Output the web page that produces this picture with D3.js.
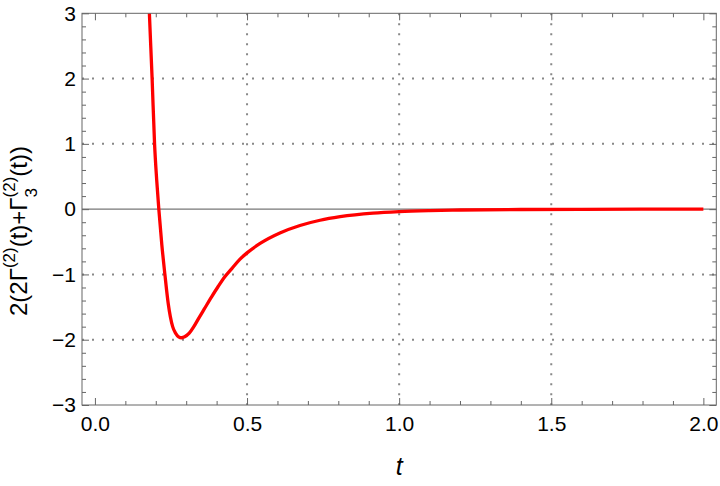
<!DOCTYPE html>
<html>
<head>
<meta charset="utf-8">
<script src="https://cdn.jsdelivr.net/npm/d3@7"></script>
<style>
  body { margin: 0; background: #fff; }
  text { font-family: "Liberation Sans", Arial, sans-serif; }
</style>
</head>
<body>
<script>
// curve
const tValues = [0.172, 0.179, 0.188, 0.196, 0.203, 0.210, 0.220, 0.230, 0.241, 0.2555, 0.265, 0.275,
  0.285, 0.295, 0.310, 0.325, 0.340, 0.360, 0.384, 0.405, 0.427, 0.450, 0.477, 0.500, 0.543, 0.608,
  0.674, 0.740, 0.806, 0.914, 1.0, 1.1, 1.2, 1.4, 1.6, 1.8, 2.0];
const gammaValues = [3.9, 3.0, 2.0, 1.0, 0.45, 0.0, -0.55, -1.0, -1.45, -1.80, -1.90, -1.955,
  -1.97, -1.955, -1.90, -1.80, -1.68, -1.525, -1.34, -1.185, -1.035, -0.91, -0.765, -0.67, -0.525, -0.365,
  -0.25, -0.17, -0.115, -0.06, -0.037, -0.022, -0.013, -0.005, -0.002, -0.001, 0.0];

const xMajor = [0, 0.5, 1.0, 1.5, 2.0];
const xMinor = d3.range(0, 2.01, 0.1).map(d => +d.toFixed(1)).filter(d => !xMajor.includes(d));
const yMajor = [-3, -2, -1, 0, 1, 2, 3];
const yMinor = d3.range(-3, 3.01, 0.2).map(d => +d.toFixed(1)).filter(d => !yMajor.includes(d));
const xGrid = [0.5, 1.0, 1.5];
const yGrid = [-2, -1, 1, 2];

var margin = {top: 13.3, right: 3.7, bottom: 81, left: 82},
    width = 720 - margin.left - margin.right,
    height = 486 - margin.top - margin.bottom;

var svg = d3.select("body")
    .append("svg")
    .attr("width", 720)
    .attr("height", 486)
    .append("g")
    .attr("transform", "translate(" + margin.left + "," + margin.top + ")");

var x = d3.scaleLinear().domain([-0.0425, 2.0425]).range([0, width]);
var y = d3.scaleLinear().domain([-3, 3]).range([height, 0]);

var axisColor = "#666";
var minus = d => d < 0 ? "\u2212" + Math.abs(d) : "" + d;

// grid
svg.selectAll(".gx").data(xGrid).enter().append("line")
    .attr("x1", d => x(d)).attr("x2", d => x(d))
    .attr("y1", 0).attr("y2", height)
    .attr("stroke", "#888").attr("stroke-width", 2).attr("stroke-dasharray", "2,8");
svg.selectAll(".gy").data(yGrid).enter().append("line")
    .attr("x1", 0).attr("x2", width)
    .attr("y1", d => y(d)).attr("y2", d => y(d))
    .attr("stroke", "#888").attr("stroke-width", 2).attr("stroke-dasharray", "2,8");

// zero axis
svg.append("line")
    .attr("x1", 0).attr("x2", width)
    .attr("y1", y(0)).attr("y2", y(0))
    .attr("stroke", "#777").attr("stroke-width", 1.2);

// curve
svg.append("clipPath").attr("id", "clip")
    .append("rect").attr("width", width).attr("height", height);

var pts = tValues.map((t, i) => [t, gammaValues[i]]);
svg.append("path")
    .datum(pts)
    .attr("clip-path", "url(#clip)")
    .attr("fill", "none")
    .attr("stroke", "#ff0000")
    .attr("stroke-width", 3.3)
    .attr("stroke-linejoin", "round")
    .attr("d", d3.line().x(d => x(d[0])).y(d => y(d[1])).curve(d3.curveMonotoneX));

// frame with inward ticks on every side
function styleAxis(g) {
  g.select(".domain").remove();
  g.selectAll("line").attr("stroke", axisColor);
  g.selectAll("text").attr("fill", "#000").style("font-size", "21px")
    .style("font-family", '"Liberation Sans", Arial, sans-serif');
}

svg.append("g").attr("transform", "translate(0," + height + ")")
    .call(d3.axisBottom(x).tickValues(xMajor).tickSize(-7).tickPadding(11).tickFormat(d3.format(".1f")))
    .call(styleAxis);
svg.append("g").attr("transform", "translate(0," + height + ")")
    .call(d3.axisBottom(x).tickValues(xMinor).tickSize(-4).tickFormat(""))
    .call(styleAxis);
svg.append("g")
    .call(d3.axisTop(x).tickValues(xMajor).tickSize(-7).tickFormat(""))
    .call(styleAxis);
svg.append("g")
    .call(d3.axisTop(x).tickValues(xMinor).tickSize(-4).tickFormat(""))
    .call(styleAxis);

svg.append("g")
    .call(d3.axisLeft(y).tickValues(yMajor).tickSize(-7).tickPadding(6).tickFormat(minus))
    .call(styleAxis);
svg.append("g")
    .call(d3.axisLeft(y).tickValues(yMinor).tickSize(-4).tickFormat(""))
    .call(styleAxis);
svg.append("g").attr("transform", "translate(" + width + ",0)")
    .call(d3.axisRight(y).tickValues(yMajor).tickSize(-7).tickFormat(""))
    .call(styleAxis);
svg.append("g").attr("transform", "translate(" + width + ",0)")
    .call(d3.axisRight(y).tickValues(yMinor).tickSize(-4).tickFormat(""))
    .call(styleAxis);

svg.append("rect")
    .attr("width", width).attr("height", height)
    .attr("fill", "none").attr("stroke", axisColor).attr("stroke-width", 1);

// axis titles
svg.append("text")
    .attr("x", width / 2)
    .attr("y", height + 70)
    .attr("text-anchor", "middle")
    .style("font-size", "25px")
    .style("font-style", "italic")
    .text("t");

// y title: start anchored, starting low enough that it is centred on the frame
var yl = svg.append("text")
    .attr("transform", "translate(" + (27 - margin.left) + "," + (316 - margin.top) + ") rotate(-90)")
    .style("font-size", "24px");
yl.append("tspan").text("2(2\u0393");
yl.append("tspan").attr("dy", -12).style("font-size", "17px").text("(2)");
yl.append("tspan").attr("dy", 12).text("(t)+\u0393");
yl.append("tspan").attr("dy", 10).style("font-size", "17px").text("3");
yl.append("tspan").attr("dx", -9.5).attr("dy", -22).style("font-size", "17px").text("(2)");
yl.append("tspan").attr("dy", 12).text("(t))");
</script>
</body>
</html>
